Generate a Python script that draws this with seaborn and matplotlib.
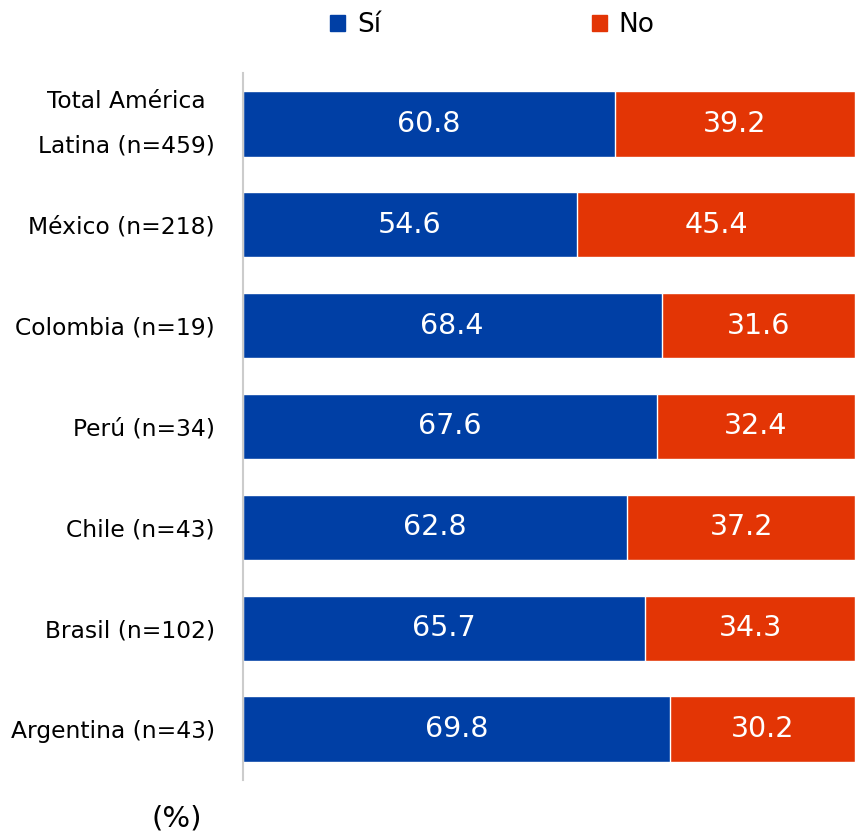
import matplotlib.pyplot as plt
import pandas as pd
import seaborn as sns

paises = ["Total América\nLatina (n=459)", "México (n=218)", "Colombia (n=19)",
          "Perú (n=34)", "Chile (n=43)", "Brasil (n=102)", "Argentina (n=43)"]
si = [60.8, 54.6, 68.4, 67.6, 62.8, 65.7, 69.8]
no = [39.2, 45.4, 31.6, 32.4, 37.2, 34.3, 30.2]

azul = "#003FA5"
rojo = "#E33505"

df = pd.DataFrame({"pais": paises, "Sí": si, "No": no})
df["total"] = df["Sí"] + df["No"]

sns.set_style("white")
plt.rcParams["font.family"] = ["DejaVu Sans"]
plt.rcParams["text.color"] = "black"

fig = plt.figure(figsize=(8.55, 8.33), dpi=100)
ax = fig.add_axes([0.284, 0.064, 0.716, 0.848])

# barra roja = total (100), barra azul = Sí encima
sns.barplot(data=df, y="pais", x="total", color=rojo, orient="h", width=0.65,
            edgecolor="white", linewidth=1, saturation=1, ax=ax)
sns.barplot(data=df, y="pais", x="Sí", color=azul, orient="h", width=0.65,
            edgecolor="white", linewidth=1, saturation=1, ax=ax)

for i in range(len(paises)):
    ax.text(si[i] / 2, i, f"{si[i]:.1f}", color="white", fontsize=20.5,
            ha="center", va="center")
    ax.text(si[i] + no[i] / 2, i, f"{no[i]:.1f}", color="white", fontsize=20.5,
            ha="center", va="center")

ax.set_xlim(0, 100)
ax.set_ylim(6.5, -0.5)
ax.set_xlabel("")
ax.set_ylabel("")
ax.set_xticks([])
for s in ["top", "right", "bottom"]:
    ax.spines[s].set_visible(False)
ax.spines["left"].set_color("#cccccc")
ax.spines["left"].set_linewidth(1.5)
ax.tick_params(axis="y", length=0, pad=20, labelsize=16.8, labelcolor="black")
for lab in ax.get_yticklabels():
    lab.set_multialignment("center")
    lab.set_linespacing(2.2)
ax.get_yticklabels()[0].set_va("center")

handles = [plt.Rectangle((0, 0), 1, 1, color=azul), plt.Rectangle((0, 0), 1, 1, color=rojo)]
fig.legend(handles, ["Sí", "No"], loc="center", bbox_to_anchor=(0.576, 0.97), ncol=2,
           frameon=False, fontsize=19, handlelength=0.55, handleheight=0.55,
           handletextpad=0.45, columnspacing=8.0)

fig.text(0.207, 0.018, "(%)", fontsize=21, ha="center", va="center")

fig.savefig("out.png", dpi=100)
